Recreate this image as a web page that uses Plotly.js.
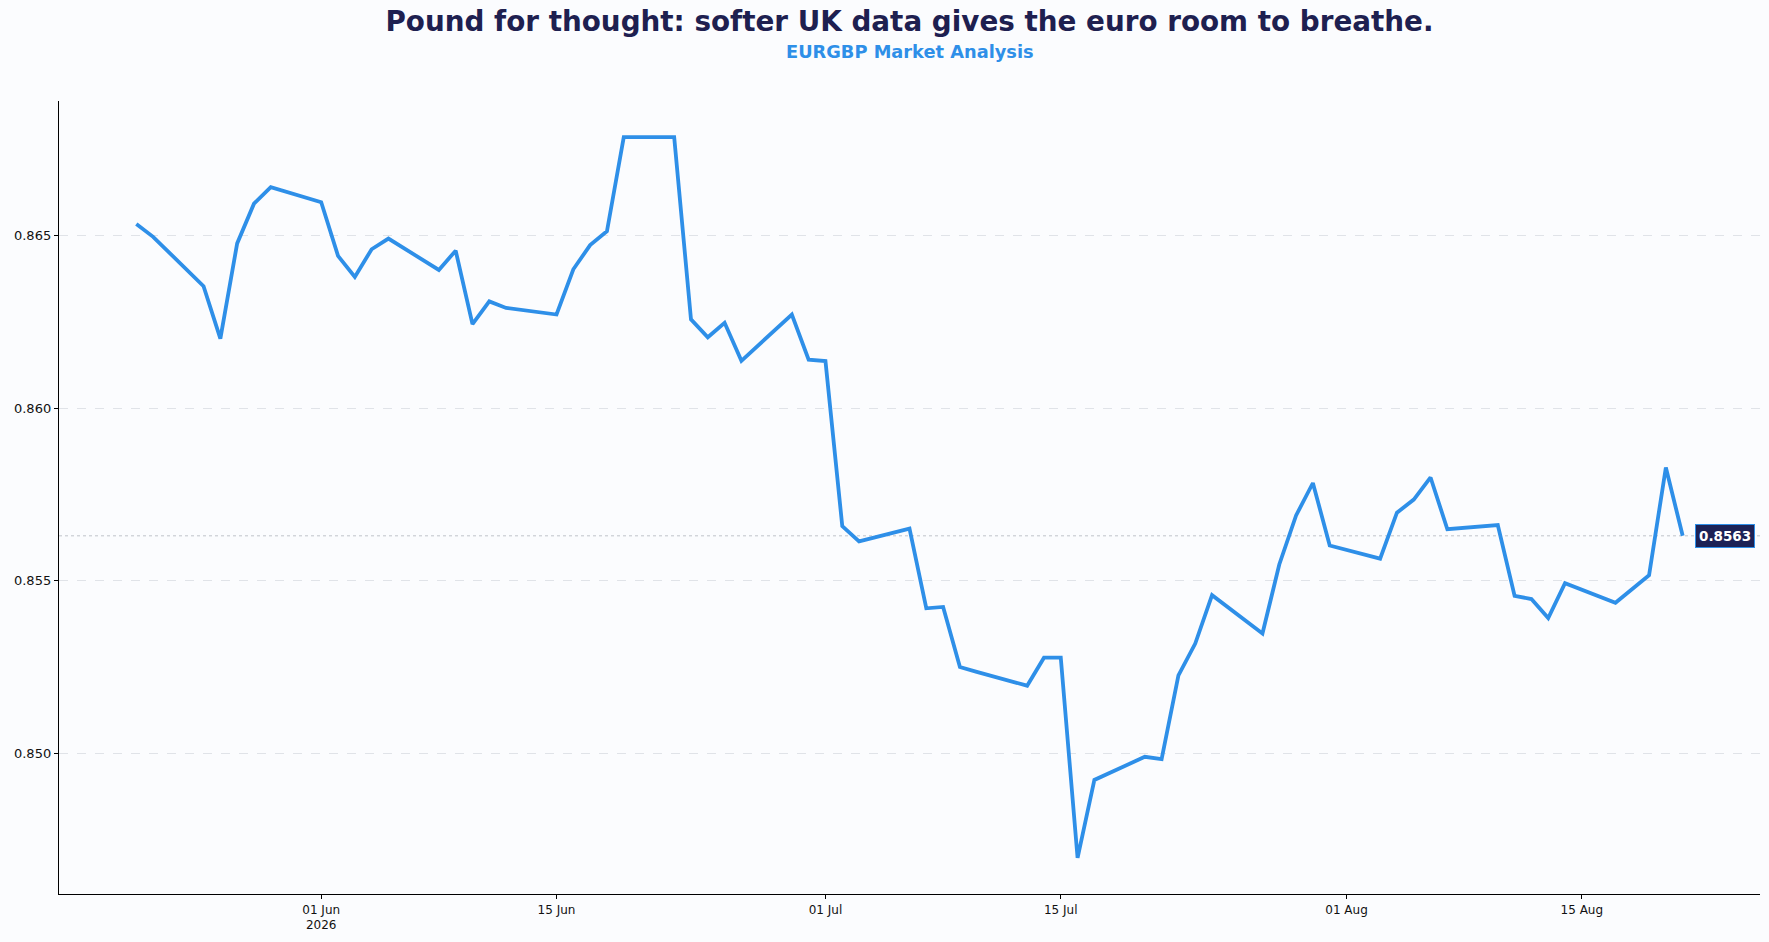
<!DOCTYPE html>
<html>
<head>
<meta charset="utf-8">
<script src="https://cdn.plot.ly/plotly-3.0.1.min.js"></script>
<style>
  html, body { margin: 0; padding: 0; background: #fbfcfe; }
  #chart { width: 1769px; height: 942px; }
</style>
</head>
<body>
<div id="chart"></div>
<script>
// EURGBP daily closes (weekdays)
const dates = [
  '2026-05-21', '2026-05-22', '2026-05-25', '2026-05-26', '2026-05-27', '2026-05-28', '2026-05-29',
  '2026-06-01', '2026-06-02', '2026-06-03', '2026-06-04', '2026-06-05',
  '2026-06-08', '2026-06-09', '2026-06-10', '2026-06-11', '2026-06-12',
  '2026-06-15', '2026-06-16', '2026-06-17', '2026-06-18', '2026-06-19',
  '2026-06-22', '2026-06-23', '2026-06-24', '2026-06-25', '2026-06-26',
  '2026-06-29', '2026-06-30', '2026-07-01', '2026-07-02', '2026-07-03',
  '2026-07-06', '2026-07-07', '2026-07-08', '2026-07-09', '2026-07-10',
  '2026-07-13', '2026-07-14', '2026-07-15', '2026-07-16', '2026-07-17',
  '2026-07-20', '2026-07-21', '2026-07-22', '2026-07-23', '2026-07-24',
  '2026-07-27', '2026-07-28', '2026-07-29', '2026-07-30', '2026-07-31',
  '2026-08-03', '2026-08-04', '2026-08-05', '2026-08-06', '2026-08-07',
  '2026-08-10', '2026-08-11', '2026-08-12', '2026-08-13', '2026-08-14',
  '2026-08-17', '2026-08-18', '2026-08-19', '2026-08-20', '2026-08-21'
];

const closes = [
  0.86533, 0.86496, 0.86353, 0.86201, 0.86477, 0.86592, 0.86640,
  0.86596, 0.86441, 0.86380, 0.86460, 0.86491,
  0.86400, 0.86456, 0.86243, 0.86309, 0.86290,
  0.86271, 0.86402, 0.86472, 0.86512, 0.86785,
  0.86785, 0.86257, 0.86205, 0.86247, 0.86137,
  0.86271, 0.86140, 0.86136, 0.85658, 0.85614,
  0.85651, 0.85420, 0.85424, 0.85250, 0.85236,
  0.85196, 0.85277, 0.85277, 0.84697, 0.84923,
  0.84990, 0.84983, 0.85226, 0.85318, 0.85458,
  0.85347, 0.85547, 0.85689, 0.85783, 0.85602,
  0.85564, 0.85697, 0.85735, 0.85799, 0.85649,
  0.85661, 0.85456, 0.85447, 0.85392, 0.85493,
  0.85436, 0.85477, 0.85516, 0.85828, 0.85630
];

const xTickVals = ['2026-06-01', '2026-06-15', '2026-07-01', '2026-07-15', '2026-08-01', '2026-08-15'];
const xTickText = ['01 Jun<br>2026', '15 Jun', '01 Jul', '15 Jul', '01 Aug', '15 Aug'];
const yTickVals = [0.850, 0.855, 0.860, 0.865];

const lastDate = dates[dates.length - 1];
const lastClose = closes[closes.length - 1];

// matplotlib style 5% margins around the data
const t0 = new Date(dates[0] + 'T00:00:00Z').getTime();
const t1 = new Date(lastDate + 'T00:00:00Z').getTime();
const xPad = (t1 - t0) * 0.05;
const xRange = [new Date(t0 - xPad).toISOString(), new Date(t1 + xPad).toISOString()];
const yMin = Math.min(...closes), yMax = Math.max(...closes);
const yPad = (yMax - yMin) * 0.05;

const font = 'DejaVu Sans, sans-serif';

const trace = {
  x: dates,
  y: closes,
  type: 'scatter',
  mode: 'lines',
  line: { color: '#2e8fe8', width: 3.8 },
  hoverinfo: 'skip'
};

const layout = {
  width: 1769,
  height: 942,
  paper_bgcolor: '#fbfcfe',
  plot_bgcolor: '#fbfcfe',
  margin: { l: 59, r: 9, t: 101, b: 48 },
  showlegend: false,
  font: { family: font, color: '#111111' },
  title: {
    text: '<b>Pound for thought: softer UK data gives the euro room to breathe.</b>',
    font: { family: font, size: 27.8, color: '#1e2050' },
    xref: 'paper', x: 0.5, xanchor: 'center',
    yref: 'container', y: 0.977, yanchor: 'middle'
  },
  xaxis: {
    type: 'date',
    range: xRange,
    tickvals: xTickVals,
    ticktext: xTickText,
    tickfont: { family: font, size: 12, color: '#111111' },
    showgrid: false,
    zeroline: false,
    showline: true,
    linecolor: '#000000',
    linewidth: 1.2,
    ticks: 'outside',
    ticklen: 4,
    tickcolor: '#000000'
  },
  yaxis: {
    range: [yMin - yPad, yMax + yPad],
    tickvals: yTickVals,
    tickformat: '.3f',
    tickfont: { family: font, size: 13, color: '#111111' },
    showgrid: true,
    gridcolor: '#d9dce2',
    gridwidth: 0.8,
    griddash: 'dash',
    zeroline: false,
    showline: true,
    linecolor: '#000000',
    linewidth: 1.2,
    ticks: 'outside',
    ticklen: 4,
    tickcolor: '#000000'
  },
  shapes: [{
    type: 'line',
    xref: 'paper', x0: 0, x1: 1,
    yref: 'y', y0: lastClose, y1: lastClose,
    line: { color: '#bfc3ca', width: 1, dash: 'dot' },
    layer: 'below'
  }],
  annotations: [
    {
      text: '<b>EURGBP Market Analysis</b>',
      xref: 'paper', x: 0.5, xanchor: 'center',
      yref: 'paper', y: 1.0618, yanchor: 'middle',
      showarrow: false,
      font: { family: font, size: 17.8, color: '#2e8fe8' }
    },
    {
      text: '<b>' + lastClose.toFixed(4) + '</b>',
      x: lastDate, y: lastClose,
      xref: 'x', yref: 'y',
      xanchor: 'left', yanchor: 'middle',
      xshift: 12,
      showarrow: false,
      font: { family: font, size: 13.5, color: '#ffffff' },
      bgcolor: '#1c2256',
      bordercolor: '#2e8fe8',
      borderwidth: 1,
      borderpad: 3
    }
  ]
};

Plotly.newPlot('chart', [trace], layout, { displayModeBar: false, staticPlot: true });
</script>
</body>
</html>
